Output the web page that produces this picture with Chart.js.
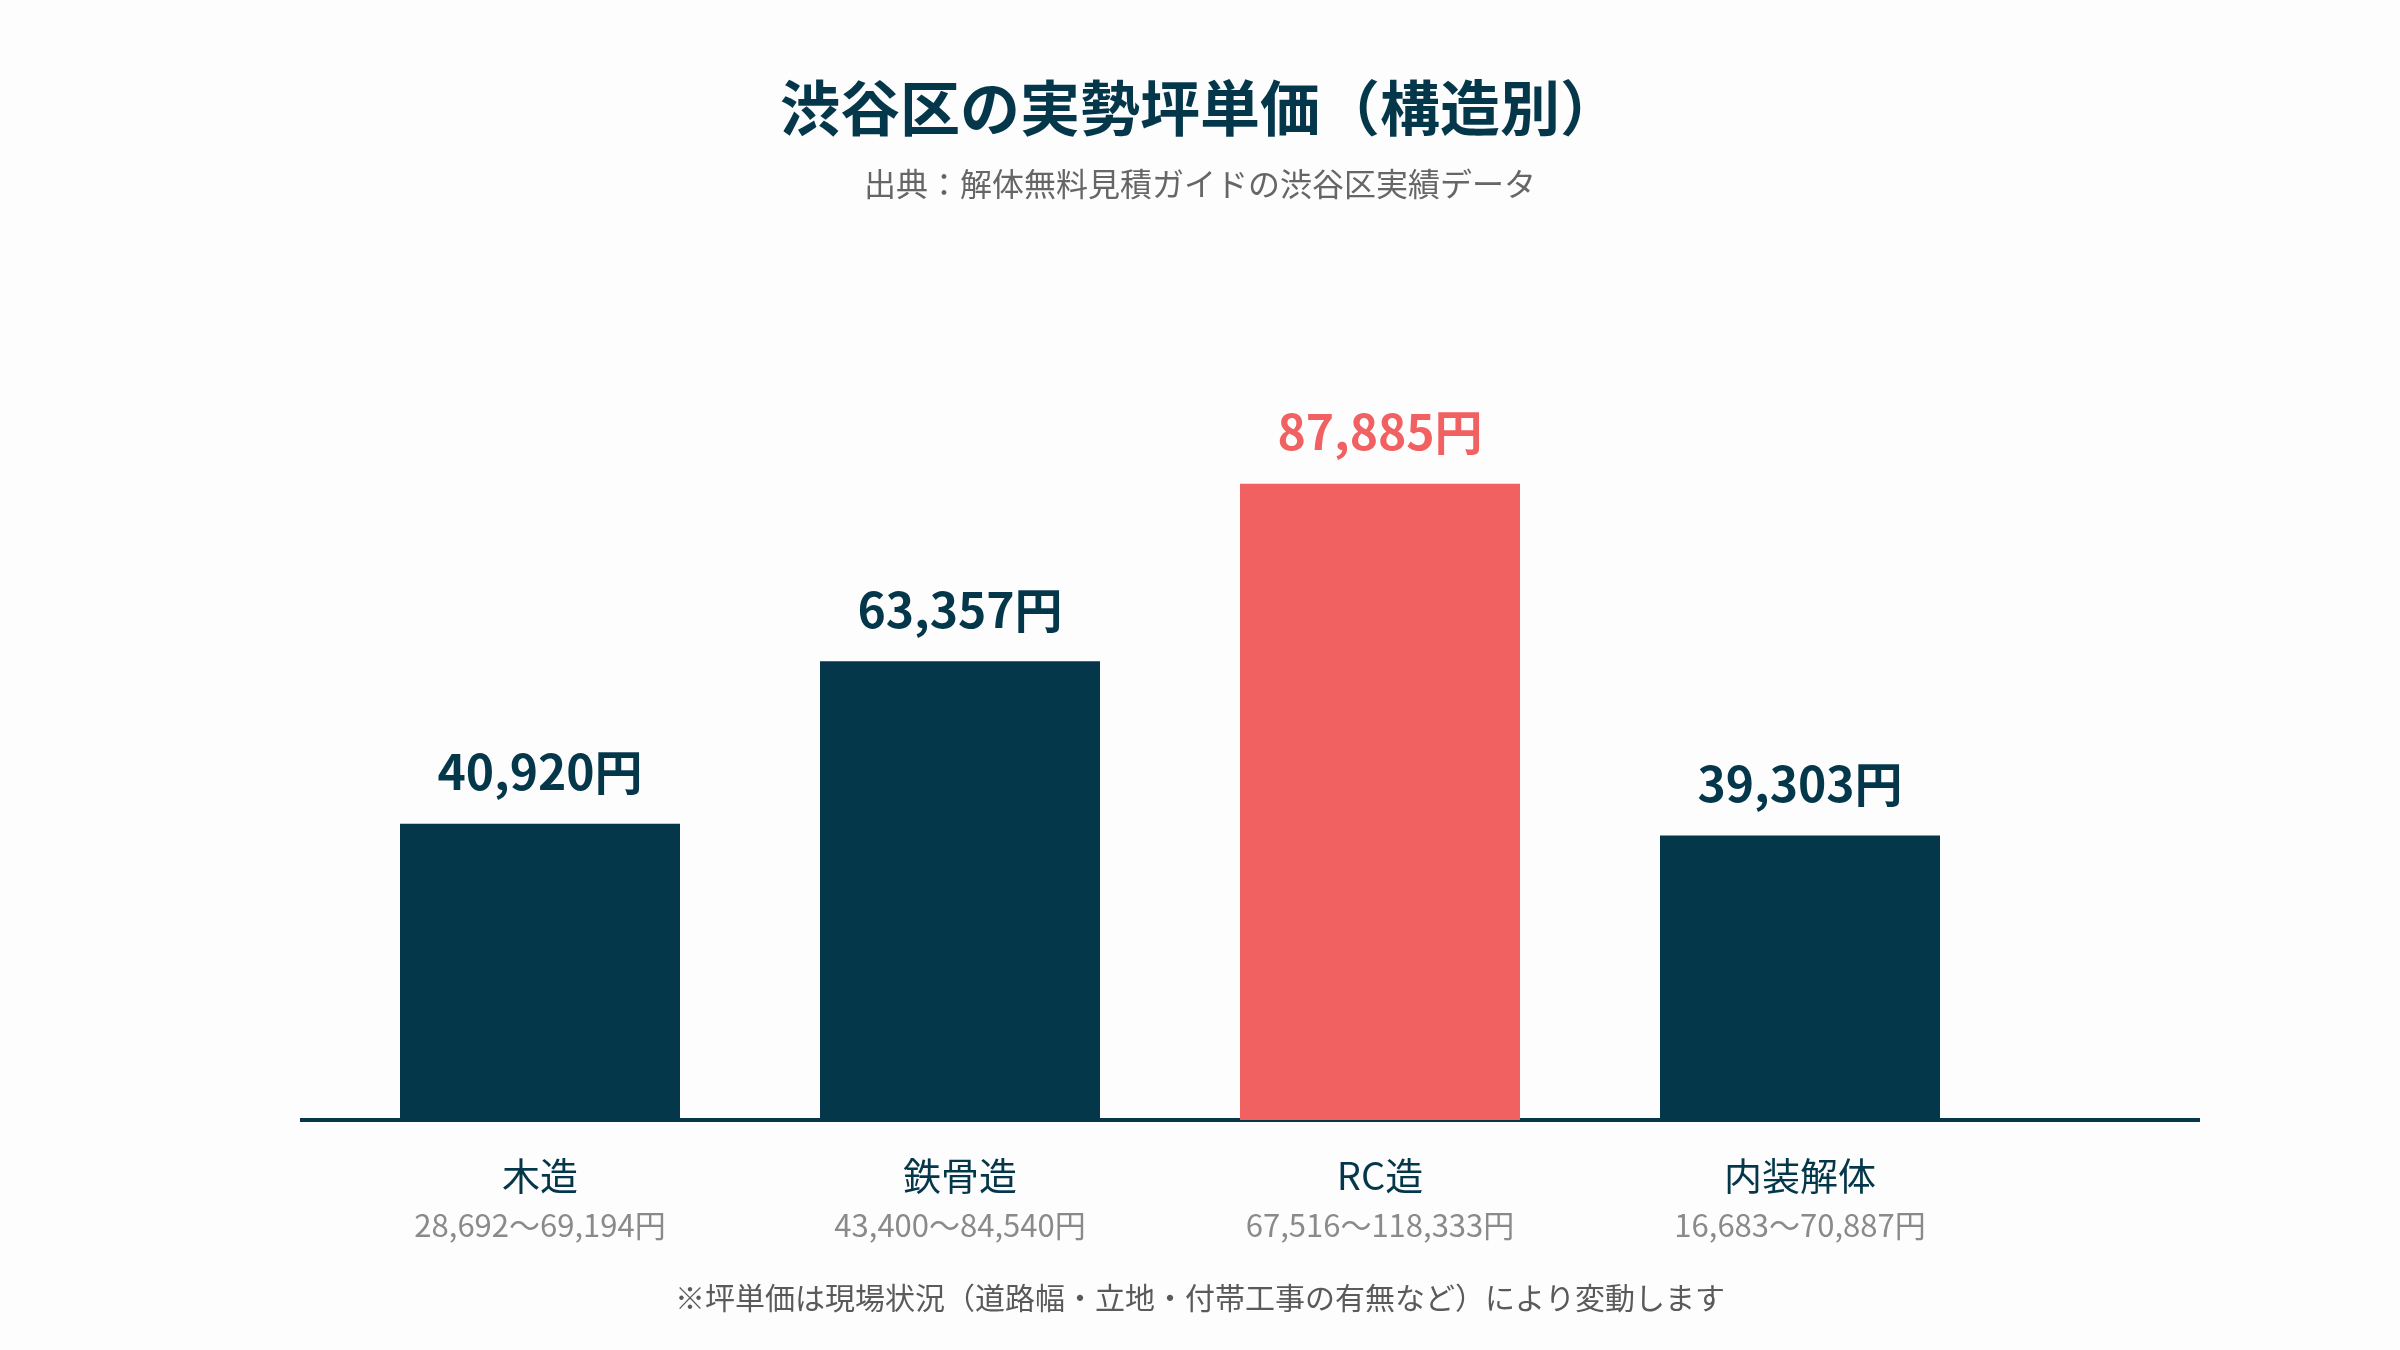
<!DOCTYPE html>
<html lang="ja">
<head>
<meta charset="UTF-8">
<title>渋谷区の実勢坪単価（構造別）</title>
<script src="https://cdn.jsdelivr.net/npm/chart.js@4.4.1/dist/chart.umd.min.js"></script>
<style>
    html, body { margin: 0; padding: 0; background: #fdfdfd; }
    #priceChart { display: block; }
</style>
</head>
<body>
<canvas id="priceChart" width="2400" height="1350"></canvas>
<script>
/**
 * Shibuya demolition price per tsubo, by structure type
 */

// Data
const categories = ['木造', '鉄骨造', 'RC造', '内装解体'];
const avgPrices = [40920, 63357, 87885, 39303];
const rangeLow = [28692, 43400, 67516, 16683];
const rangeHigh = [69194, 84540, 118333, 70887];

const chartTitle = '渋谷区の実勢坪単価（構造別）';
const chartSubtitle = '出典：解体無料見積ガイドの渋谷区実績データ';
const chartNote = '※坪単価は現場状況（道路幅・立地・付帯工事の有無など）により変動します';

const NAVY = '#05374b';
const CORAL = '#f26161';
const FONT = '"Noto Sans CJK JP", "Noto Sans", sans-serif';

/**
 * Format yen values like 40,920円
 */
function formatYen(value) {
    return value.toLocaleString('en-US') + '円';
}

/**
 * Highest bar gets the accent colour
 */
function barColor(index) {
    const maxValue = Math.max(...avgPrices);
    return avgPrices[index] === maxValue ? CORAL : NAVY;
}

/**
 * Title, subtitle and footnote drawn on the canvas
 */
const headerFooterPlugin = {
    id: 'headerFooter',
    afterDraw(chart) {
        const ctx = chart.ctx;
        const centerX = chart.width / 2;
        ctx.save();
        ctx.textAlign = 'center';
        ctx.textBaseline = 'middle';

        ctx.fillStyle = NAVY;
        ctx.font = 'bold 60px ' + FONT;
        ctx.fillText(chartTitle, centerX, 108);

        ctx.fillStyle = '#666666';
        ctx.font = '32px ' + FONT;
        ctx.fillText(chartSubtitle, centerX, 184);

        ctx.fillStyle = '#5a5a5a';
        ctx.font = '30px ' + FONT;
        ctx.fillText(chartNote, centerX, 1298);
        ctx.restore();
    }
};

/**
 * Baseline under the bars (runs a bit past the plot area on both sides)
 */
const baselinePlugin = {
    id: 'baseline',
    beforeDatasetsDraw(chart) {
        const ctx = chart.ctx;
        const area = chart.chartArea;
        const y = chart.scales.y.getPixelForValue(0);
        ctx.save();
        ctx.strokeStyle = NAVY;
        ctx.lineWidth = 4;
        ctx.beginPath();
        ctx.moveTo(area.left - 30, y);
        ctx.lineTo(area.right + 190, y);
        ctx.stroke();
        ctx.restore();
    }
};

/**
 * Value labels above bars + category / range labels below
 */
const labelsPlugin = {
    id: 'barLabels',
    afterDatasetsDraw(chart) {
        const ctx = chart.ctx;
        const meta = chart.getDatasetMeta(0);
        const xScale = chart.scales.x;
        const baseY = chart.scales.y.getPixelForValue(0);

        ctx.save();
        ctx.textAlign = 'center';
        ctx.textBaseline = 'middle';

        meta.data.forEach((bar, i) => {
            ctx.fillStyle = barColor(i);
            ctx.font = 'bold 48px ' + FONT;
            ctx.fillText(formatYen(avgPrices[i]), bar.x, bar.y - 52);

            const x = xScale.getPixelForValue(i);
            ctx.fillStyle = NAVY;
            ctx.font = '38px ' + FONT;
            ctx.fillText(categories[i], x, baseY + 56);

            ctx.fillStyle = '#8a8a8a';
            ctx.font = '31px ' + FONT;
            ctx.fillText(rangeLow[i].toLocaleString('en-US') + '〜' + formatYen(rangeHigh[i]), x, baseY + 105);
        });
        ctx.restore();
    }
};

function initializePriceChart() {
    const canvas = document.getElementById('priceChart');
    if (!canvas) {
        console.warn('Canvas not found');
        return;
    }

    new Chart(canvas, {
        type: 'bar',
        data: {
            labels: categories,
            datasets: [{
                data: avgPrices,
                backgroundColor: ctx => barColor(ctx.dataIndex),
                borderWidth: 0,
                categoryPercentage: 1,
                barPercentage: 2 / 3
            }]
        },
        options: {
            responsive: false,
            animation: false,
            layout: {
                padding: { top: 396, bottom: 230, left: 330, right: 390 }
            },
            scales: {
                x: { display: false },
                y: { display: false, min: 0, max: 100000 }
            },
            plugins: {
                legend: { display: false },
                tooltip: { enabled: false }
            }
        },
        plugins: [headerFooterPlugin, baselinePlugin, labelsPlugin]
    });
}

document.addEventListener('DOMContentLoaded', initializePriceChart);
</script>
</body>
</html>
